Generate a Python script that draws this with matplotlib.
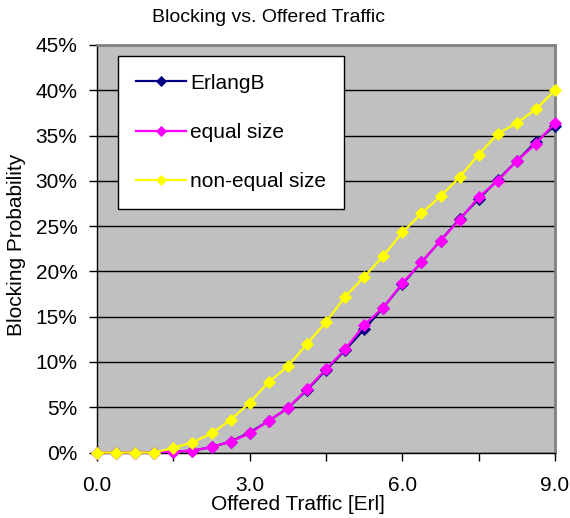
import matplotlib as mpl

mpl.use("Agg")

import matplotlib.pyplot as plt
from matplotlib.ticker import FixedLocator, FuncFormatter

plt.rcParams["font.family"] = ["Liberation Sans", "DejaVu Sans"]

# offered traffic in Erlang
traffic = [
    0.0, 0.375, 0.75, 1.125, 1.5, 1.875, 2.25, 2.625, 3.0, 3.375, 3.75, 4.125,
    4.5, 4.875, 5.25, 5.625, 6.0, 6.375, 6.75, 7.125, 7.5, 7.875, 8.25, 8.625, 9.0,
]

# blocking probability in percent
erlang_b = [
    0.0, 0.0, 0.0, 0.0, 0.1, 0.2, 0.6, 1.2, 2.2, 3.5, 4.9, 6.9,
    9.1, 11.3, 13.6, 16.0, 18.6, 21.0, 23.4, 25.8, 28.0, 30.1, 32.2, 34.3, 36.1,
]
equal_size = [
    0.0, 0.0, 0.0, 0.0, 0.1, 0.2, 0.6, 1.2, 2.1, 3.5, 4.9, 7.0,
    9.2, 11.4, 14.1, 16.0, 18.7, 21.0, 23.4, 25.7, 28.2, 30.0, 32.2, 34.1, 36.4,
]
non_equal_size = [
    0.0, 0.0, 0.0, 0.0, 0.5, 1.1, 2.1, 3.6, 5.5, 7.8, 9.5, 12.0,
    14.4, 17.2, 19.4, 21.7, 24.3, 26.4, 28.3, 30.4, 32.9, 35.2, 36.4, 37.9, 40.0,
]

series = [
    ("ErlangB", erlang_b, "#000080"),
    ("equal size", equal_size, "#FF00FF"),
    ("non-equal size", non_equal_size, "#FFFF00"),
]

fig = plt.figure(figsize=(5.70, 5.18), dpi=100)
ax = fig.add_axes([97 / 570, 1 - 452.5 / 518, 458 / 570, 407.5 / 518])
ax.set_facecolor("#C0C0C0")

for label, values, color in series:
    ax.plot(traffic, values, color=color, lw=1.6, marker="D", ms=6.5,
            mfc=color, mec=color, mew=0.6, label=label, clip_on=False, zorder=3)

ax.set_xlim(0, 9)
ax.set_ylim(0, 45)

ax.xaxis.set_major_locator(FixedLocator([0, 1.5, 3, 4.5, 6, 7.5, 9]))
ax.xaxis.set_major_formatter(
    FuncFormatter(lambda v, _: f"{v:.1f}" if abs(v % 3) < 1e-9 else ""))
ax.yaxis.set_major_locator(FixedLocator(range(0, 46, 5)))
ax.yaxis.set_major_formatter(FuncFormatter(lambda v, _: f"{v:.0f}%"))
ax.tick_params(axis="both", direction="out", length=6, width=1, labelsize=15,
               color="black")
ax.tick_params(axis="y", pad=8)
ax.tick_params(axis="x", pad=11)

ax.grid(axis="y", color="black", lw=1)
ax.set_axisbelow(True)
for side in ("left", "bottom"):
    ax.spines[side].set_color("black")
    ax.spines[side].set_linewidth(1)
for side in ("top", "right"):
    ax.spines[side].set_color("#808080")
    ax.spines[side].set_linewidth(2)

leg = ax.legend(loc="upper left", bbox_to_anchor=(21 / 458, 1 - 11 / 407.5),
                fontsize=15, frameon=True, fancybox=False, borderpad=0.85,
                labelspacing=1.45, handlelength=2.4, handletextpad=0.2,
                borderaxespad=0, markerscale=0.85)
leg.get_frame().set_edgecolor("black")
leg.get_frame().set_facecolor("white")
leg.get_frame().set_linewidth(1)
leg.get_frame().set_alpha(1)

fig.text(268 / 570, 1 - 18 / 518, "Blocking vs. Offered Traffic",
         ha="center", va="center", fontsize=14)
fig.text(298 / 570, 1 - 505 / 518, "Offered Traffic [Erl]",
         ha="center", va="center", fontsize=15)
fig.text(17 / 570, 1 - 245 / 518, "Blocking Probability",
         ha="center", va="center", rotation=90, fontsize=15)

fig.savefig("out.png", dpi=100)
plt.close(fig)
